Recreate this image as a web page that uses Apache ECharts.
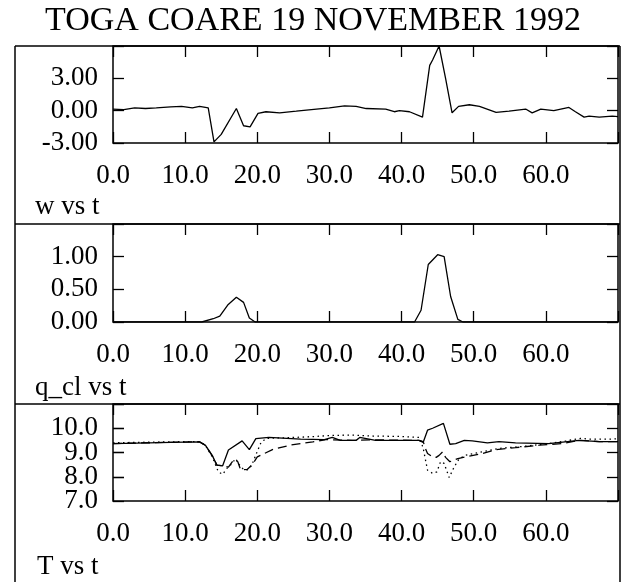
<!DOCTYPE html>
<html>
<head>
<meta charset="utf-8">
<script src="https://cdn.jsdelivr.net/npm/echarts@6/dist/echarts.min.js"></script>
<style>
  html, body { margin: 0; padding: 0; background: #fff; }
  #chart { width: 621px; height: 582px; }
</style>
</head>
<body>
<div id="chart"></div>
<script>
// Vertical velocity w
const tW = [0, 1.5, 3, 4.5, 6, 8, 9.5, 11, 12, 13.2, 14.0, 15.0, 17.1, 18.1, 19.0, 20.1, 21.2, 23.1, 25.4, 28.2, 30.0, 32.1, 33.7, 35.1, 37.8, 39.0, 39.7, 41.1, 42.9, 43.9, 44.3, 45.2, 46.1, 47.0, 47.9, 49.4, 50.8, 53.1, 54.9, 57.2, 58.1, 59.3, 61.1, 63.2, 64.1, 65.3, 66.0, 67.4, 69.2, 70];
const wVals = [0.15, 0.1, 0.25, 0.2, 0.25, 0.35, 0.4, 0.25, 0.4, 0.25, -2.9, -2.2, 0.2, -1.4, -1.5, -0.25, -0.1, -0.2, -0.05, 0.15, 0.25, 0.45, 0.4, 0.2, 0.15, -0.1, 0.0, -0.1, -0.6, 4.2, 4.7, 6.0, 3.0, -0.2, 0.4, 0.55, 0.4, -0.15, -0.05, 0.15, -0.2, 0.15, 0.0, 0.3, -0.1, -0.6, -0.5, -0.6, -0.5, -0.55];

// Cloud water q_cl
const tQ = [0, 12.3, 13.9, 14.8, 15.9, 17.1, 18.1, 18.9, 19.7, 41.8, 42.7, 43.7, 45.0, 45.9, 46.8, 47.8, 48.5, 70];
const qVals = [0, 0, 0.05, 0.09, 0.26, 0.38, 0.30, 0.06, 0, 0, 0.18, 0.88, 1.03, 1.0, 0.39, 0.04, 0, 0];

// Temperature T, three runs (solid, dashed, dotted)
const tT1 = [0, 5, 8, 12.0, 12.8, 13.8, 14.4, 15.2, 16.0, 17.9, 18.9, 19.8, 21.6, 26, 29.3, 30.4, 31.5, 33.7, 34.2, 36.4, 42.4, 43.0, 43.6, 44.3, 45.8, 46.7, 47.5, 48.7, 49.8, 51.9, 53.5, 55.8, 60.4, 64.6, 67.4, 70];
const T1 = [9.37, 9.4, 9.42, 9.44, 9.3, 8.85, 8.48, 8.45, 9.1, 9.48, 9.12, 9.57, 9.62, 9.55, 9.53, 9.62, 9.5, 9.5, 9.62, 9.5, 9.5, 9.42, 9.92, 10.0, 10.2, 9.34, 9.37, 9.5, 9.48, 9.4, 9.45, 9.4, 9.37, 9.5, 9.45, 9.45];

const tT2 = [0, 8, 12.0, 12.8, 13.8, 14.4, 15.2, 16.0, 16.8, 17.3, 17.7, 18.6, 19.3, 20.0, 22.1, 24.5, 27.7, 29.5, 33.2, 36, 42.4, 43.0, 43.3, 43.6, 44.3, 44.8, 45.2, 45.7, 46.1, 46.7, 47.8, 49.4, 51.2, 53.1, 55.8, 59.1, 62.3, 64.6, 67.4, 70];
const T2 = [9.37, 9.42, 9.44, 9.3, 8.85, 8.48, 8.45, 8.4, 8.72, 8.62, 8.28, 8.3, 8.5, 8.82, 9.12, 9.3, 9.44, 9.53, 9.5, 9.52, 9.5, 9.45, 9.17, 8.96, 8.82, 8.8, 8.88, 9.03, 8.8, 8.62, 8.75, 8.85, 8.96, 9.12, 9.2, 9.3, 9.37, 9.5, 9.45, 9.45];

const tT3 = [0, 8, 12.0, 12.8, 13.8, 14.6, 15.2, 15.8, 16.5, 17.0, 17.5, 18.1, 18.6, 19.2, 19.8, 20.5, 21.2, 23, 25, 28, 30, 33, 36, 40, 42.5, 43.0, 43.6, 44.3, 44.9, 45.4, 45.9, 46.6, 47.3, 48.0, 48.9, 51.2, 53.5, 57.2, 60.4, 62.8, 64.8, 66.2, 69.2, 70];
const T3 = [9.4, 9.44, 9.45, 9.3, 8.8, 8.2, 8.1, 8.35, 8.55, 8.75, 8.5, 8.3, 8.28, 8.45, 8.9, 9.4, 9.58, 9.6, 9.62, 9.66, 9.7, 9.72, 9.68, 9.66, 9.62, 9.17, 8.27, 8.14, 8.2, 8.62, 8.55, 7.97, 8.41, 8.75, 8.89, 9.03, 9.17, 9.26, 9.37, 9.48, 9.58, 9.55, 9.55, 9.57];

// Axis tick settings
const tTicks = { min: 0, max: 70, interval: 10 };
const wAxis = { min: -3, max: 6, interval: 3, digits: 2 };
const qAxis = { min: 0, max: 1.5, interval: 0.5, digits: 2 };
const TAxis = { min: 7, max: 11, interval: 1, digits: 1 };

const panelLabels = ['w vs t', 'q_cl vs t', 'T vs t'];
const titleText = 'TOGA COARE 19 NOVEMBER 1992';

const pairs = (xs, ys) => xs.map((x, i) => [x, ys[i]]);

const FONT = '"Liberation Serif", "Times New Roman", serif';
const grids = [
  { left: 113, top: 46, width: 507, height: 97 },
  { left: 113, top: 224, width: 507, height: 98 },
  { left: 113, top: 404, width: 507, height: 97 }
];
const yCfg = [wAxis, qAxis, TAxis];

const tickStyle = { show: true, inside: true, length: 11, lineStyle: { color: '#000', width: 1.3 } };
const labelFont = { color: '#000', fontFamily: FONT, fontSize: 27 };

const xAxes = [], yAxes = [];
grids.forEach((g, i) => {
  const base = {
    type: 'value', gridIndex: i, min: tTicks.min, max: tTicks.max, interval: tTicks.interval,
    splitLine: { show: false }, axisLine: { show: false, onZero: false },
    axisTick: tickStyle
  };
  xAxes.push(Object.assign({}, base, {
    position: 'bottom',
    axisLabel: Object.assign({ show: true, margin: 19, showMinLabel: true,
      formatter: v => (v >= tTicks.max ? '' : v.toFixed(1)) }, labelFont)
  }));
  xAxes.push(Object.assign({}, base, { position: 'top', axisLabel: { show: false } }));
});

function yBase(i) {
  const c = yCfg[i];
  return {
    type: 'value', gridIndex: i, min: c.min, max: c.max, interval: c.interval,
    splitLine: { show: false }, axisLine: { show: false, onZero: false },
    axisTick: tickStyle
  };
}
// Left (labelled) and right (ticks only) y axes per panel: indices 0..5
grids.forEach((g, i) => {
  const c = yCfg[i];
  // The temperature labels sit close together, so that panel splits them
  // over two left axes: even steps here, odd steps on the extra axis below.
  const keep = i === 2
    ? (v => Math.round(v - c.min) % 2 === 0 && v < c.max - 1e-9)
    : (v => v < c.max - 1e-9);
  yAxes.push(Object.assign(yBase(i), {
    position: 'left',
    axisLabel: Object.assign({ show: true, margin: 15, showMinLabel: true,
      formatter: v => (keep(v) ? v.toFixed(c.digits) : '') }, labelFont)
  }));
  yAxes.push(Object.assign(yBase(i), { position: 'right', axisLabel: { show: false } }));
});
// Extra left axis for the odd temperature steps (index 6)
yAxes.push(Object.assign(yBase(2), {
  position: 'left',
  axisLabel: Object.assign({ show: true, margin: 15, showMinLabel: false,
    formatter: v => (Math.round(v - TAxis.min) % 2 === 1 && v < TAxis.max - 1e-9 ? v.toFixed(TAxis.digits) : '') }, labelFont)
}));

const lineBase = (gi, data, type) => ({
  type: 'line', xAxisIndex: gi * 2, yAxisIndex: gi * 2, data, symbol: 'none',
  clip: true, silent: true,
  lineStyle: { color: '#000', width: 1.3, type: type }
});

const series = [
  lineBase(0, pairs(tW, wVals), 'solid'),
  lineBase(1, pairs(tQ, qVals), 'solid'),
  lineBase(2, pairs(tT3, T3), [1.5, 3.5]),
  lineBase(2, pairs(tT2, T2), [9, 5]),
  lineBase(2, pairs(tT1, T1), 'solid')
];

// Panel frames and labels
const frameLine = (x1, y1, x2, y2) => ({
  type: 'line', shape: { x1, y1, x2, y2 }, style: { stroke: '#000', lineWidth: 1.5 }, silent: true
});
const graphic = [
  { type: 'text', x: 313, y: 21, style: { text: titleText, font: '34px ' + FONT, fill: '#000',
      textAlign: 'center', textVerticalAlign: 'middle' } },
  frameLine(15, 46, 620, 46),
  frameLine(15, 46, 15, 582),
  frameLine(620, 46, 620, 582),
  frameLine(15, 224, 620, 224),
  frameLine(15, 404, 620, 404),
  { type: 'text', x: 35, y: 207, style: { text: panelLabels[0], font: '27px ' + FONT, fill: '#000', textVerticalAlign: 'middle' } },
  { type: 'text', x: 35, y: 388, style: { text: panelLabels[1], font: '27px ' + FONT, fill: '#000', textVerticalAlign: 'middle' } },
  { type: 'text', x: 37, y: 567, style: { text: panelLabels[2], font: '27px ' + FONT, fill: '#000', textVerticalAlign: 'middle' } }
];

const chart = echarts.init(document.getElementById('chart'), null, { renderer: 'canvas' });
chart.setOption({
  animation: false,
  backgroundColor: '#fff',
  grid: grids.map(g => Object.assign({ show: true, borderColor: '#000', borderWidth: 1.5, backgroundColor: 'transparent' }, g)),
  xAxis: xAxes,
  yAxis: yAxes,
  series,
  graphic
});
</script>
</body>
</html>
